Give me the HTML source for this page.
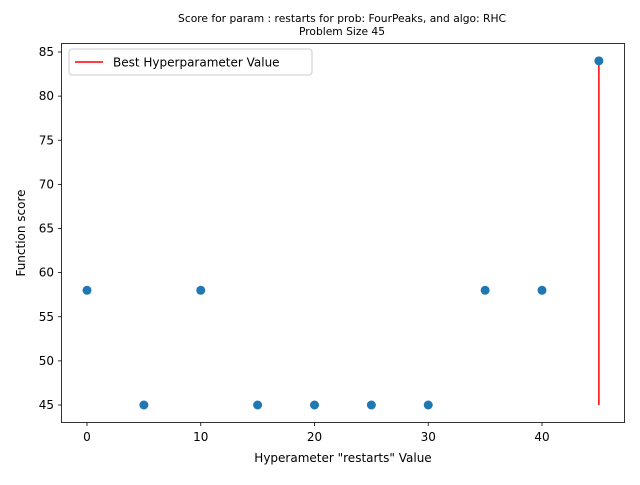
<!DOCTYPE html>
<html><head><meta charset="utf-8"><style>
body{margin:0;background:#fff;}
svg text{font-family:"DejaVu Sans","Liberation Sans",sans-serif;}
</style></head><body>
<svg id="chart" width="640" height="480" xmlns="http://www.w3.org/2000/svg">
<text x="342" y="22" font-size="10.7" text-anchor="middle">Score for param : restarts for prob: FourPeaks, and algo: RHC</text>
<text x="342" y="35" font-size="10.7" text-anchor="middle">Problem Size 45</text>
<g id="plot"></g>
<rect x="61.5" y="43.5" width="563" height="379" fill="none" stroke="#000" stroke-width="0.8"/>
<text x="343" y="462" font-size="12" text-anchor="middle">Hyperameter "restarts" Value</text>
<text transform="translate(25,233) rotate(-90)" font-size="12" text-anchor="middle">Function score</text>
<g>
<rect x="69" y="49" width="243" height="26" rx="3" fill="#fff" stroke="#ccc"/>
<line x1="75" y1="62" x2="103" y2="62" stroke="red" stroke-width="1.5"/>
<text x="113" y="66.5" font-size="12">Best Hyperparameter Value</text>
</g>
</svg>
<script>
const xValues=[0,5,10,15,20,25,30,35,40,45];
const yValues=[58,45,58,45,45,45,45,58,58,84];
const xTicks=[0,10,20,30,40];
const yTicks=[45,50,55,60,65,70,75,80,85];
const bestX=45, bestYMin=45, bestYMax=84;
const sx=v=>87+(v-0)*(455/40);
const sy=v=>405-(v-45)*(353/40);
const ns="http://www.w3.org/2000/svg";
const g=document.getElementById('plot');
function mk(t,a){const e=document.createElementNS(ns,t);for(const k in a)e.setAttribute(k,a[k]);g.appendChild(e);return e;}
xTicks.forEach(t=>{
 const l=mk('line',{x1:sx(t),x2:sx(t),y1:422.5,y2:426,stroke:'#000','stroke-width':0.8});
 
 
 const tx=mk('text',{x:sx(t),y:441,'font-size':12,'text-anchor':'middle'});tx.textContent=t;
 
 
});
yTicks.forEach(t=>{
 const l=mk('line',{x1:58,x2:61.5,y1:sy(t),y2:sy(t),stroke:'#000','stroke-width':0.8});
 
 
 const tx=mk('text',{x:54,y:sy(t)+4,'font-size':12,'text-anchor':'end'});tx.textContent=t;
 
 
});
const bl=mk('line',{x1:sx(bestX),x2:sx(bestX),y1:sy(bestYMin),y2:sy(bestYMax),stroke:'red','stroke-width':1.5});


xValues.forEach((x,i)=>{
 const c=mk('circle',{cx:sx(x),cy:sy(yValues[i]),r:4.5,fill:'#1f77b4'});
 
 
});
</script>
</body></html>
